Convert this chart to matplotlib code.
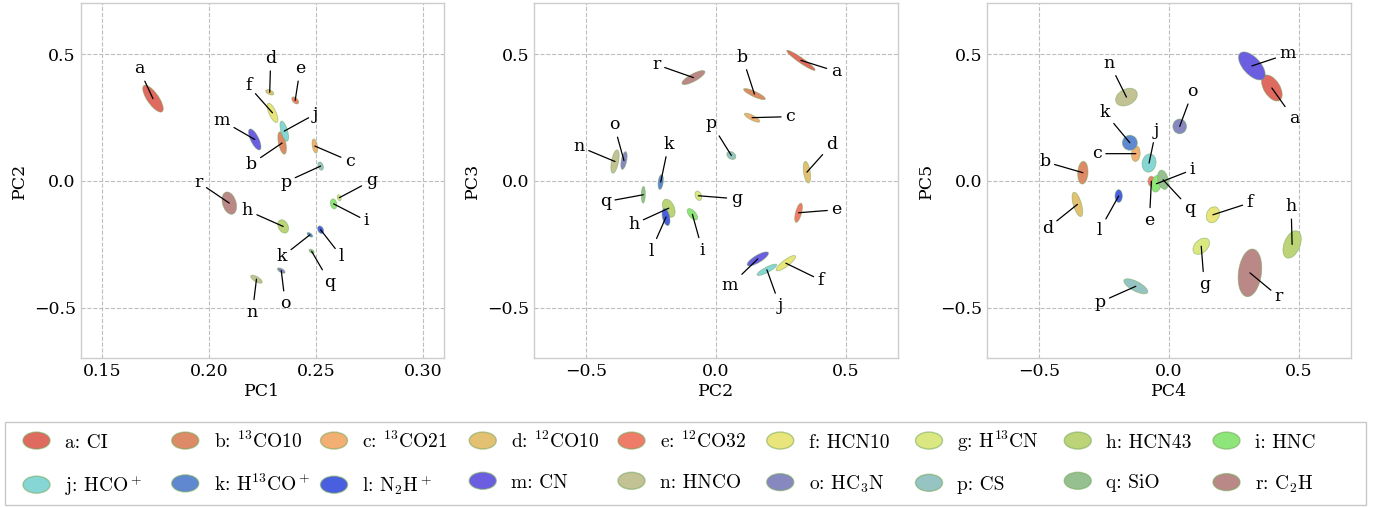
import numpy as np
import matplotlib
matplotlib.use("Agg")
import matplotlib.pyplot as plt
from matplotlib.patches import Ellipse
from matplotlib.legend_handler import HandlerPatch

plt.rcParams['font.family'] = ['DejaVu Serif']
plt.rcParams['mathtext.fontset'] = 'cm'

# ---------------- data ----------------
keys = list("abcdefghijklmnopqr")
species = ['a: CI', 'b: $^{13}$CO10', 'c: $^{13}$CO21', 'd: $^{12}$CO10', 'e: $^{12}$CO32',
           'f: HCN10', 'g: H$^{13}$CN', 'h: HCN43', 'i: HNC',
           'j: HCO$^+$', 'k: H$^{13}$CO$^+$', 'l: N$_2$H$^+$', 'm: CN', 'n: HNCO',
           'o: HC$_3$N', 'p: CS', 'q: SiO', 'r: C$_2$H']
colors = ['#df6a5f', '#dd8a66', '#f3ae72', '#e4c073', '#ef7c68', '#e9e57a',
          '#dbe882', '#bcd477', '#8ee57a', '#86d6d6', '#5f88d0', '#4a5ee0',
          '#6c5ee0', '#c2c294', '#8888c0', '#96c4c2', '#96c090', '#bb8888']

# Panel 1: PC1 vs PC2
pc1_x = [0.1738, 0.2342, 0.2495, 0.2284, 0.2403, 0.2297, 0.2609, 0.2347, 0.2583,
         0.2352, 0.2472, 0.2522, 0.2214, 0.2222, 0.2338, 0.2522, 0.2480, 0.2095]
pc1_y = [0.324, 0.149, 0.137, 0.349, 0.317, 0.268, -0.067, -0.180, -0.091,
         0.196, -0.213, -0.193, 0.163, -0.388, -0.354, 0.058, -0.278, -0.088]
pc1_sx = [0.0048, 0.0020, 0.0013, 0.0019, 0.0016, 0.0025, 0.0009, 0.0025, 0.0015,
          0.0020, 0.0013, 0.0014, 0.0029, 0.0027, 0.0018, 0.0013, 0.0012, 0.0034]
pc1_sy = [0.053, 0.044, 0.028, 0.0105, 0.0138, 0.038, 0.0118, 0.0263, 0.0197,
          0.0395, 0.0092, 0.015, 0.0414, 0.0158, 0.0105, 0.0164, 0.0086, 0.044]
pc1_rho = [-0.75, -0.5, -0.4, -0.5, -0.5, -0.7, -0.3, -0.3, -0.2,
           -0.6, -0.6, -0.3, -0.7, -0.7, -0.6, -0.3, -0.5, -0.3]

# Panel 2: PC2 vs PC3
pc2_x = [0.328, 0.149, 0.140, 0.351, 0.319, 0.270, -0.067, -0.181, -0.090,
         0.197, -0.212, -0.1915, 0.162, -0.388, -0.3535, 0.060, -0.279, -0.086]
pc2_y = [0.475, 0.342, 0.249, 0.034, -0.126, -0.325, -0.059, -0.108, -0.132,
         -0.351, -0.005, -0.143, -0.308, 0.076, 0.080, 0.100, -0.055, 0.407]
pc2_sx = [0.0546, 0.0418, 0.0296, 0.0141, 0.0148, 0.0373, 0.0129, 0.0244, 0.020,
          0.0379, 0.0103, 0.0154, 0.0411, 0.016, 0.0122, 0.0174, 0.0077, 0.0443]
pc2_sy = [0.0395, 0.0217, 0.0178, 0.0428, 0.038, 0.0303, 0.0184, 0.0355, 0.0224,
          0.0224, 0.029, 0.0336, 0.0276, 0.046, 0.0349, 0.0158, 0.033, 0.0276]
pc2_rho = [-0.95, -0.85, -0.8, -0.4, 0.6, 0.85, -0.3, -0.4, -0.6,
           0.85, 0.3, -0.4, 0.8, 0.5, 0.5, -0.3, 0.1, 0.8]

# Panel 3: PC4 vs PC5
pc3_x = [0.396, -0.332, -0.128, -0.353, -0.068, 0.169, 0.124, 0.474, -0.0485,
         -0.077, -0.151, -0.194, 0.319, -0.164, 0.041, -0.128, -0.023, 0.3115]
pc3_y = [0.366, 0.032, 0.107, -0.093, -0.002, -0.134, -0.258, -0.251, -0.0115,
         0.070, 0.150, -0.060, 0.453, 0.330, 0.2145, -0.416, 0.004, -0.363]
pc3_sx = [0.0397, 0.0199, 0.0167, 0.0205, 0.013, 0.0256, 0.032, 0.0353, 0.019,
          0.027, 0.0288, 0.0141, 0.0513, 0.0417, 0.0263, 0.0462, 0.021, 0.0455]
pc3_sy = [0.0513, 0.0447, 0.0309, 0.048, 0.020, 0.0316, 0.0322, 0.054, 0.033,
          0.036, 0.0296, 0.025, 0.0553, 0.0349, 0.029, 0.0296, 0.038, 0.094]
pc3_rho = [-0.5, 0.1, 0.1, -0.6, 0.0, 0.2, 0.4, 0.4, 0.2,
           0.1, 0.0, 0.0, -0.6, 0.3, 0.0, -0.7, -0.3, 0.2]

xlabels = ['PC1', 'PC2', 'PC4']
ylabels = ['PC2', 'PC3', 'PC5']

# ---------------- layout (label offsets in pixels, +y = down) ----------------
offsets = [
    {'a': (-14, -30), 'b': (-31, 21), 'c': (35, 15), 'd': (1, -34), 'e': (5, -32),
     'f': (-24, -27), 'g': (32, -17), 'h': (-36, -16), 'i': (33, 17), 'j': (31, -17),
     'k': (-28, 22), 'l': (21, 27), 'm': (-33, -19), 'n': (-4, 33), 'o': (4, 33),
     'p': (-35, 16), 'q': (18, 31), 'r': (-31, -21)},
    {'a': (35, 11), 'b': (-12, -37), 'c': (38, -1), 'd': (25, -28), 'e': (38, -3),
     'f': (35, 17), 'g': (38, 3), 'h': (-35, 16), 'i': (10, 36), 'j': (13, 36),
     'k': (8, -38), 'l': (-15, 34), 'm': (-28, 27), 'n': (-36, -15), 'o': (-10, -36),
     'p': (-20, -32), 'q': (-38, 7), 'r': (-37, -13)},
    {'a': (22, 31), 'b': (-38, -11), 'c': (-39, 0), 'd': (-30, 24), 'e': (-2, 39),
     'f': (37, -12), 'g': (3, 38), 'h': (-1, -38), 'i': (36, -14), 'j': (7, -33),
     'k': (-25, -30), 'l': (-19, 34), 'm': (36, -12), 'n': (-17, -34), 'o': (13, -35),
     'p': (-36, 16), 'q': (27, 29), 'r': (29, 24)},
]
xlims = [(0.14, 0.31), (-0.7, 0.7), (-0.7, 0.7)]
xticks = [[0.15, 0.20, 0.25, 0.30], [-0.5, 0.0, 0.5], [-0.5, 0.0, 0.5]]
xticklabels = [['0.15', '0.20', '0.25', '0.30'], ['−0.5', '0.0', '0.5'], ['−0.5', '0.0', '0.5']]
yticks = [-0.5, 0.0, 0.5]
yticklabels = ['−0.5', '0.0', '0.5']
lefts = [80.7, 534.0, 987.3]
W, H = 1386, 507
FS = 12.5
LFS = 14
EDGE = (0.45, 0.65, 0.35, 0.55)

panels = [(pc1_x, pc1_y, pc1_sx, pc1_sy, pc1_rho),
          (pc2_x, pc2_y, pc2_sx, pc2_sy, pc2_rho),
          (pc3_x, pc3_y, pc3_sx, pc3_sy, pc3_rho)]


def cov_ellipse(cx, cy, sx, sy, rho, **kw):
    cov = np.array([[sx * sx, rho * sx * sy], [rho * sx * sy, sy * sy]])
    vals, vecs = np.linalg.eigh(cov)
    order = vals.argsort()[::-1]
    vals, vecs = vals[order], vecs[:, order]
    ang = np.degrees(np.arctan2(vecs[1, 0], vecs[0, 0]))
    return Ellipse((cx, cy), 2 * np.sqrt(vals[0]), 2 * np.sqrt(max(vals[1], 0)), angle=ang, **kw)


fig = plt.figure(figsize=(W / 100, H / 100), dpi=100)
for p, (xs, ys, sxs, sys_, rhos) in enumerate(panels):
    ax = fig.add_axes([lefts[p] / W, 1 - 358.3 / H, 363.5 / W, 355.0 / H])
    ax.set_xlim(*xlims[p])
    ax.set_ylim(-0.7, 0.7)
    ax.set_xticks(xticks[p])
    ax.set_xticklabels(xticklabels[p])
    ax.set_yticks(yticks)
    ax.set_yticklabels(yticklabels)
    ax.grid(True, ls='--', color='#bdbdbd', lw=0.8)
    ax.set_axisbelow(True)
    for s in ax.spines.values():
        s.set_color('#cccccc')
        s.set_linewidth(1.0)
    ax.tick_params(axis='both', length=0, labelsize=FS, pad=3.5)
    ax.set_xlabel(xlabels[p], fontsize=FS, labelpad=2)
    ax.set_ylabel(ylabels[p], fontsize=FS, labelpad=4)
    for i, k in enumerate(keys):
        e = cov_ellipse(xs[i], ys[i], sxs[i], sys_[i], rhos[i],
                        facecolor=colors[i], edgecolor=EDGE, lw=0.6, zorder=2)
        ax.add_patch(e)
    for i, k in enumerate(keys):
        ox, oy = offsets[p][k]
        ax.annotate(k, xy=(xs[i], ys[i]), xytext=(ox, -oy), textcoords='offset pixels',
                    ha='center', va='center', fontsize=FS, zorder=5,
                    arrowprops=dict(arrowstyle='-', color='black', lw=0.9,
                                    shrinkA=1, shrinkB=0))


class HandlerEllipse(HandlerPatch):
    def create_artists(self, legend, orig_handle, xdescent, ydescent, width, height, fontsize, trans):
        ew = 1.39 * fontsize
        center = (width - xdescent - 0.5 * ew, 0.5 * height - 0.5 * ydescent)
        pch = Ellipse(xy=center, width=ew, height=height + ydescent)
        self.update_prop(pch, orig_handle, legend)
        pch.set_transform(trans)
        return [pch]


handles = [Ellipse((0, 0), 1, 1, facecolor=c, edgecolor=EDGE, lw=1.0) for c in colors]
ncol = 9
order = []
for c in range(ncol):
    order += [c, c + ncol]
BP = 0.36
bw = 1361.0
leg = fig.legend([handles[i] for i in order], [species[i] for i in order],
                 handler_map={Ellipse: HandlerEllipse()},
                 loc='lower left', bbox_to_anchor=(5 / W, 2 / H, bw / W, 85 / H),
                 mode='expand', ncol=ncol, prop={'family': ['cmr10', 'DejaVu Serif'], 'size': LFS},
                 frameon=True, fancybox=False, alignment='left',
                 edgecolor='#bbbbbb', handlelength=1.955, handleheight=0.875,
                 handletextpad=0.77, borderaxespad=0, labelspacing=1.11, borderpad=BP)
leg.get_frame().set_linewidth(1.0)
# equal-width columns across the legend box
hb = leg._legend_handle_box
hb.mode = 'equal'
hb.set_width(9 * 148.75)

# make the legend frame span the full target width
fig.canvas.draw()
fr = leg.get_frame().get_window_extent()
bw_new = bw + (1361.0 - fr.width)
leg.set_bbox_to_anchor((5 / W, 2 / H, bw_new / W, 85 / H), transform=fig.transFigure)

fig.savefig('out.png', dpi=100)
